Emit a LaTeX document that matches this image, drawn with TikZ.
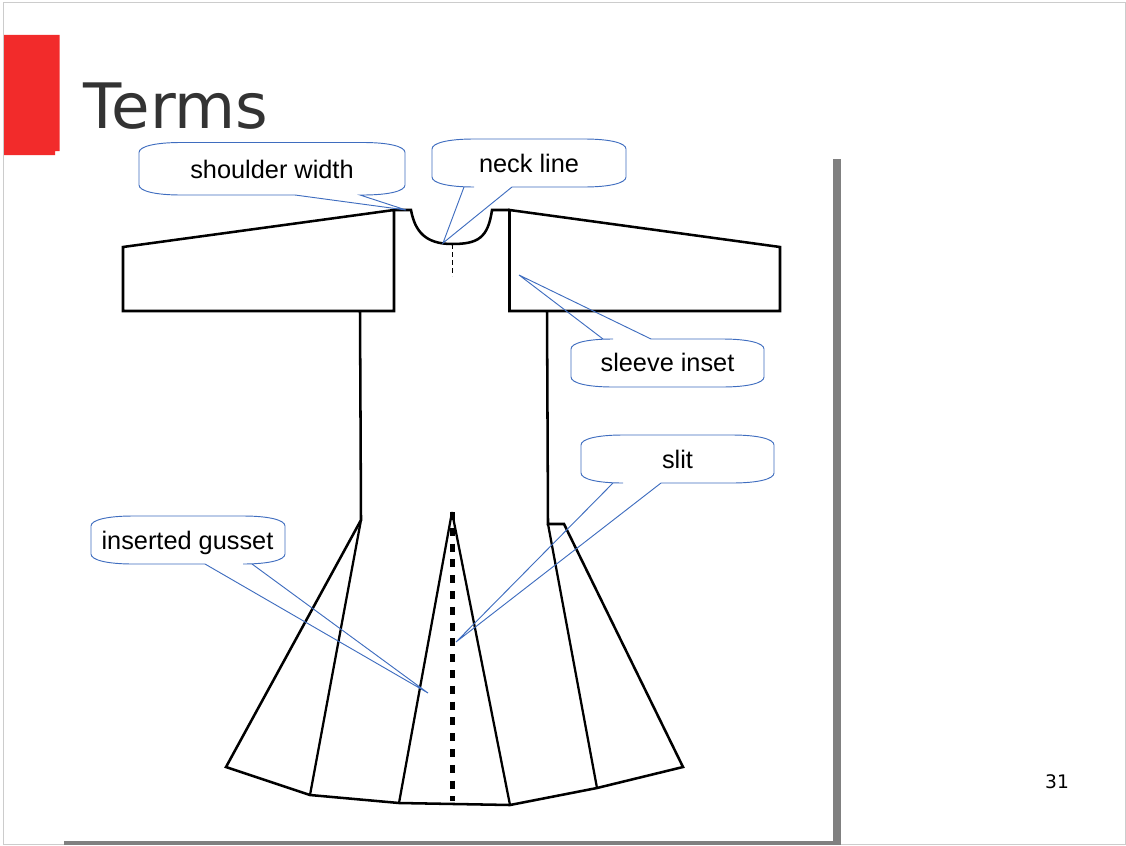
\documentclass[tikz,border=0pt]{standalone}
\usepackage{fontspec}
\setmainfont{Liberation Sans}
\newfontfamily\dejavu{DejaVu Sans}
\definecolor{callblue}{HTML}{3F6DBF}
\definecolor{redbar}{HTML}{F22B2B}
\definecolor{titlegray}{HTML}{333333}
\definecolor{framegray}{HTML}{808080}
\definecolor{pagegray}{HTML}{CCCCCC}
\tikzset{
  cutline/.style={draw=black,line width=1.9pt,line join=miter},
  seamline/.style={draw=black,line width=1.7pt},
  callout/.style={draw=callblue,line width=0.7pt,line join=miter},
  calltext/.style={font=\fontsize{19pt}{23pt}\selectfont,text=black,inner sep=0pt,anchor=base},
}
% #1 left #2 top #3 right #4 bottom; #5 path of the tail inserted on the given side
\newcommand{\boxtop}[5]{%
  \draw[callout] (#1,#2+10) .. controls (#1,#2+4) and (#1+16,#2) .. (#1+42,#2)
    #5 -- (#3-42,#2) .. controls (#3-16,#2) and (#3,#2+4) .. (#3,#2+10)
    -- (#3,#4-10) .. controls (#3,#4-4) and (#3-16,#4) .. (#3-42,#4)
    -- (#1+42,#4) .. controls (#1+16,#4) and (#1,#4-4) .. (#1,#4-10) -- cycle;}
\newcommand{\boxbot}[5]{%
  \draw[callout] (#1,#2+10) .. controls (#1,#2+4) and (#1+16,#2) .. (#1+42,#2)
    -- (#3-42,#2) .. controls (#3-16,#2) and (#3,#2+4) .. (#3,#2+10)
    -- (#3,#4-10) .. controls (#3,#4-4) and (#3-16,#4) .. (#3-42,#4)
    #5 -- (#1+42,#4) .. controls (#1+16,#4) and (#1,#4-4) .. (#1,#4-10) -- cycle;}
\begin{document}
\begin{tikzpicture}[x=0.75pt,y=-0.75pt]
\useasboundingbox (0,0) rectangle (1126,845);
% page
\draw[pagegray,line width=0.75pt] (3.5,2.5) -- (1125.5,2.5) -- (1125.5,844.5) -- (3.5,844.5) -- cycle;
% red bar
\fill[redbar] (4,35) -- (59.5,35) -- (59.5,151) -- (55,151) -- (55,155) -- (4,155) -- cycle;
% title
\node[anchor=base west,inner sep=0pt,text=titlegray,font=\dejavu\fontsize{47pt}{50pt}\selectfont] (title) at (83.5,128.5) {Terms};
% grey frame
\fill[framegray] (833,159) rectangle (841,845);
\fill[framegray] (64,841) rectangle (841,845);
% sleeves and neck
\draw[cutline] (394,210) -- (123,247) -- (123,311) -- (394,311) -- cycle;
\draw[cutline] (509.5,210) -- (780,247) -- (780,311) -- (509.5,311) -- cycle;
\draw[cutline] (394,210) -- (411,210) .. controls (415,232) and (426,244) .. (452,244)
  .. controls (478,244) and (488,238) .. (492,210) -- (509.5,210);
\draw[black,line width=0.7pt,dash pattern=on 3.5pt off 2.5pt] (452.5,244) -- (452.5,276);
% body
\draw[cutline] (360,311) -- (361,520) -- (226,767) -- (310,795) -- (399,803) -- (510,805) -- (597,788) -- (683,767) -- (564,524) -- (548,524) -- (547,311);
\draw[seamline] (361,520) -- (310,795);
\draw[seamline] (548,524) -- (597,788);
\draw[seamline] (452,512) -- (399,803);
\draw[seamline] (452,512) -- (510,805);
\draw[black,line width=3.1pt,dash pattern=on 6pt off 5.85pt] (452.5,512) -- (452.5,801);
% callouts
\boxbot{139}{142.5}{405}{195}{-- (360,195) -- (406,210) -- (295,195)}
\node[calltext] (shoulder) at (272,178) {shoulder width};
\boxbot{432}{139}{626}{187}{-- (512,187) -- (443,243) -- (464,187)}
\node[calltext] (neck) at (529,172) {neck line};
\boxtop{571}{339}{764}{387}{-- (603,339) -- (519,275) -- (651,339)}
\node[calltext] (sleeve) at (667.5,371) {sleeve inset};
\boxbot{581}{435}{774}{483}{-- (661,483) -- (456,642) -- (613,483)}
\node[calltext] (slit) at (677.5,468) {slit};
\boxbot{91}{516}{285}{564}{-- (252,564) -- (428,693) -- (205,564)}
\node[calltext] (gusset) at (187.5,549) {inserted gusset};
% page number
\node[anchor=base,inner sep=0pt,font=\dejavu\fontsize{14pt}{16pt}\selectfont,text=black] (num) at (1057,788) {31};
\end{tikzpicture}
\end{document}
